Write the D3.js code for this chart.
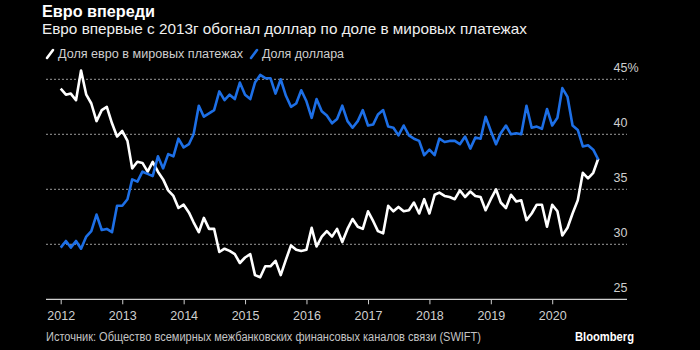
<!DOCTYPE html>
<html><head><meta charset="utf-8">
<script src="https://cdnjs.cloudflare.com/ajax/libs/d3/7.8.5/d3.min.js"></script>
<style>
html,body{margin:0;padding:0;background:#000;}
svg{display:block;font-family:"Liberation Sans",Arial,sans-serif;}
</style></head>
<body>
<svg id="chart" width="700" height="350"></svg>
<script>
const title = "Евро впереди";
const subtitle = "Евро впервые с 2013г обогнал доллар по доле в мировых платежах";
const seriesNames = ["Доля евро в мировых платежах", "Доля доллара"];
const sourceText = "Источник: Общество всемирных межбанковских финансовых каналов связи (SWIFT)";
const startMonth = "2012-01";
const euro = [44.15,43.6,43.7,43.1,45.8,43.6,42.8,41.2,42.2,42.5,41.0,39.8,
  40.3,39.4,36.9,37.5,37.4,36.6,37.5,36.6,35.9,34.9,34.4,33.3,
  33.6,32.9,32.0,31.1,32.4,31.4,31.4,29.3,29.6,29.4,29.1,28.3,
  28.8,29.1,27.2,27.0,28.0,28.0,28.5,27.2,28.6,29.9,29.5,29.4,
  29.5,31.5,29.8,30.7,31.2,30.7,31.4,30.2,31.4,32.3,31.6,31.4,
  33.0,32.1,31.2,31.0,33.5,33.0,33.4,33.0,33.1,33.8,32.8,34.1,
  32.8,34.5,34.7,34.4,34.3,34.1,34.9,34.3,34.8,34.4,34.3,33.1,
  34.1,35.0,33.8,33.3,34.5,33.9,34.0,32.2,32.8,33.6,33.6,31.6,
  33.6,33.0,30.8,31.5,32.8,34.0,36.5,36.0,36.5,37.8];
const dollar = [29.7,30.3,29.7,30.3,29.6,30.7,31.2,32.7,31.3,31.4,31.1,33.5,
  33.5,34.1,35.9,35.7,36.6,36.4,36.2,38.0,36.9,38.2,38.0,39.6,
  38.8,39.1,40.0,42.6,41.6,41.9,42.2,43.9,43.1,43.6,43.2,44.7,
  43.6,43.2,44.7,45.4,45.1,45.1,43.7,45.0,43.5,42.5,42.8,44.0,
  43.0,41.5,43.2,42.1,41.7,41.0,41.4,42.6,41.2,40.6,41.2,42.2,
  40.8,40.9,41.8,42.2,40.7,40.6,39.9,40.8,39.9,39.6,39.4,38.1,
  38.6,38.1,39.6,39.3,39.4,39.4,39.1,39.8,38.7,39.7,39.6,41.6,
  40.3,39.1,40.1,40.8,40.0,40.1,40.0,42.6,40.6,40.7,40.5,42.3,
  40.8,41.5,44.2,43.4,40.8,40.4,38.9,39.0,38.6,37.7];
const yTicks = [25,30,35,40,45];
const yearTicks = [2012,2013,2014,2015,2016,2017,2018,2019,2020];

const svg = d3.select("#chart");
const parse = d3.timeParse("%Y-%m");
const t0 = parse(startMonth);
const dates = euro.map((_, i) => d3.timeMonth.offset(t0, i));

const x = d3.scaleTime().domain([dates[0], dates[dates.length-1]]).range([60.7, 598.3]);
const y = d3.scaleLinear().domain([25, 45]).range([299.3, 79.3]);
const plotLeft = 46, plotRight = 627;

svg.append("rect").attr("width",700).attr("height",350).attr("fill","#000");

// title
svg.append("text").attr("x",42).attr("y",17).attr("fill","#fff")
  .attr("font-size",16).attr("font-weight","bold")
  .attr("textLength",113).attr("lengthAdjust","spacingAndGlyphs").text(title);
svg.append("text").attr("x",42).attr("y",34).attr("fill","#f0f0f0")
  .attr("font-size",14.5)
  .attr("textLength",485).attr("lengthAdjust","spacingAndGlyphs").text(subtitle);

// legend
const colors = ["#ffffff", "#1d6fe6"];
const legendItems = [{x:46, w:185}, {x:250, w:82}];
legendItems.forEach((it, k) => {
  svg.append("line").attr("x1", it.x+1).attr("y1", 58).attr("x2", it.x+7).attr("y2", 50)
    .attr("stroke", colors[k]).attr("stroke-width", 2.6).attr("stroke-linecap","round");
  svg.append("text").attr("x", it.x+12).attr("y", 58).attr("fill","#cfcfcf")
    .attr("font-size",12.5).attr("textLength", it.w).attr("lengthAdjust","spacingAndGlyphs")
    .text(seriesNames[k]);
});

// gridlines
svg.append("g").selectAll("line").data(yTicks.filter(v => v > 25)).join("line")
  .attr("x1", plotLeft).attr("x2", plotRight)
  .attr("y1", d => y(d)).attr("y2", d => y(d))
  .attr("stroke", "#9a9a9a").attr("stroke-width", 1).attr("stroke-dasharray", "2,2");

// y labels
svg.append("g").selectAll("text").data(yTicks).join("text")
  .attr("x", 613.5).attr("y", d => y(d) - 7)
  .attr("fill", "#cfcfcf").attr("font-size", 12.5)
  .text(d => d === 45 ? d + "%" : d);

// x axis
const xAxis = d3.axisBottom(x)
  .tickValues(yearTicks.map(yr => new Date(yr, 0, 1)))
  .tickFormat(d3.timeFormat("%Y"))
  .tickSize(5).tickSizeOuter(0);
const gx = svg.append("g").attr("transform", `translate(0,${y(25)})`).call(xAxis);
gx.select(".domain").remove();
gx.selectAll(".tick line").attr("stroke", "#cfcfcf");
gx.selectAll(".tick text").attr("fill", "#cfcfcf").attr("font-size", 12.5)
  .attr("font-family", "Liberation Sans, Arial, sans-serif").attr("dy", "1.05em");
svg.append("line").attr("x1", plotLeft).attr("x2", plotRight)
  .attr("y1", y(25)).attr("y2", y(25)).attr("stroke", "#cfcfcf").attr("stroke-width", 1.2);

// lines
const line = d3.line().x((d, i) => x(dates[i])).y(d => y(d)).curve(d3.curveLinear);
svg.append("path").datum(euro).attr("d", line).attr("fill","none")
  .attr("stroke", colors[0]).attr("stroke-width", 2.6).attr("stroke-linejoin","round");
svg.append("path").datum(dollar).attr("d", line).attr("fill","none")
  .attr("stroke", colors[1]).attr("stroke-width", 2.6).attr("stroke-linejoin","round");

// footer
svg.append("text").attr("x", 46).attr("y", 341).attr("fill", "#c4c4c4")
  .attr("font-size", 12).attr("textLength", 435).attr("lengthAdjust","spacingAndGlyphs")
  .text(sourceText);
svg.append("text").attr("x", 575).attr("y", 341).attr("fill", "#fff")
  .attr("font-size", 12.5).attr("font-weight","bold")
  .attr("textLength", 59).attr("lengthAdjust","spacingAndGlyphs").text("Bloomberg");
</script>
</body></html>
